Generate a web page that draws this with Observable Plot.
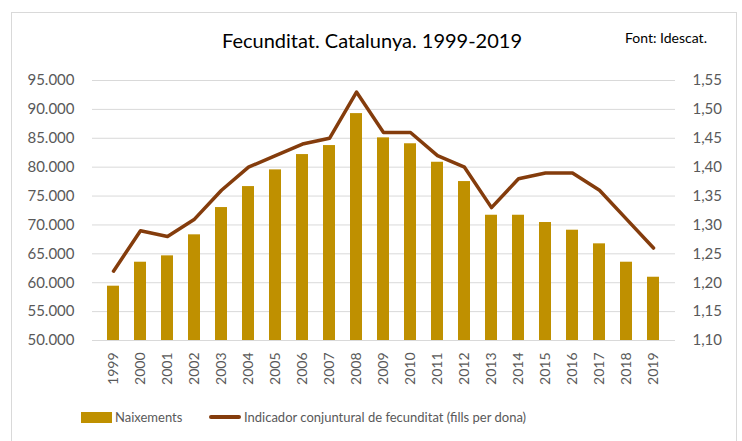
<!DOCTYPE html>
<html>
<head>
<meta charset="utf-8">
<script src="https://cdn.jsdelivr.net/npm/d3@7"></script>
<script src="https://cdn.jsdelivr.net/npm/@observablehq/plot@0.6"></script>
<style>
  html, body { margin: 0; padding: 0; background: #fff; }
  #wrap { position: relative; width: 742px; height: 441px; overflow: hidden; font-family: Lato, "Open Sans", sans-serif; }
  #frame { position: absolute; left: 11px; top: 12px; width: 726px; height: 440px; border: 1px solid #D9D9D9; box-sizing: border-box; }
  #chart { position: absolute; left: 0; top: 0; }
  #title { position: absolute; left: 0; width: 744px; top: 28px; text-align: center; font-size: 20px; color: #000; }
  #source { position: absolute; left: 625px; top: 29px; font-size: 14px; color: #000; }
  .leg { position: absolute; top: 409px; font-size: 13px; color: #595959; white-space: nowrap; }
  .sw-bar { position: absolute; left: 81px; top: 412px; width: 31px; height: 11px; background: #BF9000; }
  .sw-line { position: absolute; left: 209px; top: 415px; width: 32px; height: 4px; background: #843C0C; border-radius: 2px; }
</style>
</head>
<body>
<div id="wrap">
  <div id="frame"></div>
  <div id="chart"></div>
  <div id="title">Fecunditat. Catalunya. 1999-2019</div>
  <div id="source">Font: Idescat.</div>
  <div class="sw-bar"></div>
  <div class="leg" id="leg1" style="left:115px">Naixements</div>
  <div class="sw-line"></div>
  <div class="leg" id="leg2" style="left:244px">Indicador conjuntural de fecunditat (fills per dona)</div>
</div>
<script>
const years = ["1999","2000","2001","2002","2003","2004","2005","2006","2007","2008","2009","2010","2011","2012","2013","2014","2015","2016","2017","2018","2019"];
const naixements = [59400, 63550, 64650, 68290, 73010, 76640, 79530, 82180, 83740, 89270, 85070, 84050, 80850, 77510, 71680, 71680, 70420, 69090, 66730, 63550, 60950];
const fecunditat = [1.22, 1.29, 1.28, 1.31, 1.36, 1.40, 1.42, 1.44, 1.45, 1.53, 1.46, 1.46, 1.42, 1.40, 1.33, 1.38, 1.39, 1.39, 1.36, 1.31, 1.26];
const leftTicks = [50000, 55000, 60000, 65000, 70000, 75000, 80000, 85000, 90000, 95000];
const rightTicks = [1.10, 1.15, 1.20, 1.25, 1.30, 1.35, 1.40, 1.45, 1.50, 1.55];

// right axis (1.10–1.55) mapped onto left axis (50.000–95.000)
const toLeft = v => 50000 + (v - 1.10) * 100000;
const fromLeft = d => (d - 50000) / 100000 + 1.10;

const data = years.map((y, i) => ({year: y, births: naixements[i], tfr: fecunditat[i]}));

const fmtThousands = d => d3.format(",")(d).replace(/,/g, ".");
const fmtDec = d => fromLeft(d).toFixed(2).replace(".", ",");

const chart = Plot.plot({
  width: 742,
  height: 441,
  marginLeft: 92,
  marginRight: 67,
  marginTop: 80,
  marginBottom: 101,
  style: {fontFamily: "Lato, 'Open Sans', sans-serif", color: "#595959", background: "transparent"},
  x: {type: "band", domain: years, paddingInner: 0.55, paddingOuter: 0.275, axis: null},
  y: {domain: [50000, 95000], axis: null},
  marks: [
    Plot.gridY(leftTicks, {stroke: "#D9D9D9", strokeOpacity: 1, strokeWidth: 1}),
    Plot.barY(data, {x: "year", y: "births", y1: 50000, fill: "#BF9000"}),
    Plot.line(data, {x: "year", y: d => toLeft(d.tfr), stroke: "#843C0C", strokeWidth: 3.5, strokeLinecap: "round", strokeLinejoin: "round"}),
    Plot.axisY(leftTicks, {anchor: "left", label: null, tickSize: 0, tickPadding: 18, tickFormat: fmtThousands, fontSize: 15, fill: "#595959"}),
    Plot.axisY(rightTicks.map(toLeft), {anchor: "right", label: null, tickSize: 0, tickPadding: 17, tickFormat: fmtDec, fontSize: 15, fill: "#595959"}),
    Plot.axisX(years, {anchor: "bottom", label: null, tickSize: 0, tickPadding: 12, tickRotate: -90, fontSize: 14, fill: "#595959"})
  ]
});
document.getElementById("chart").appendChild(chart);
</script>
</body>
</html>
